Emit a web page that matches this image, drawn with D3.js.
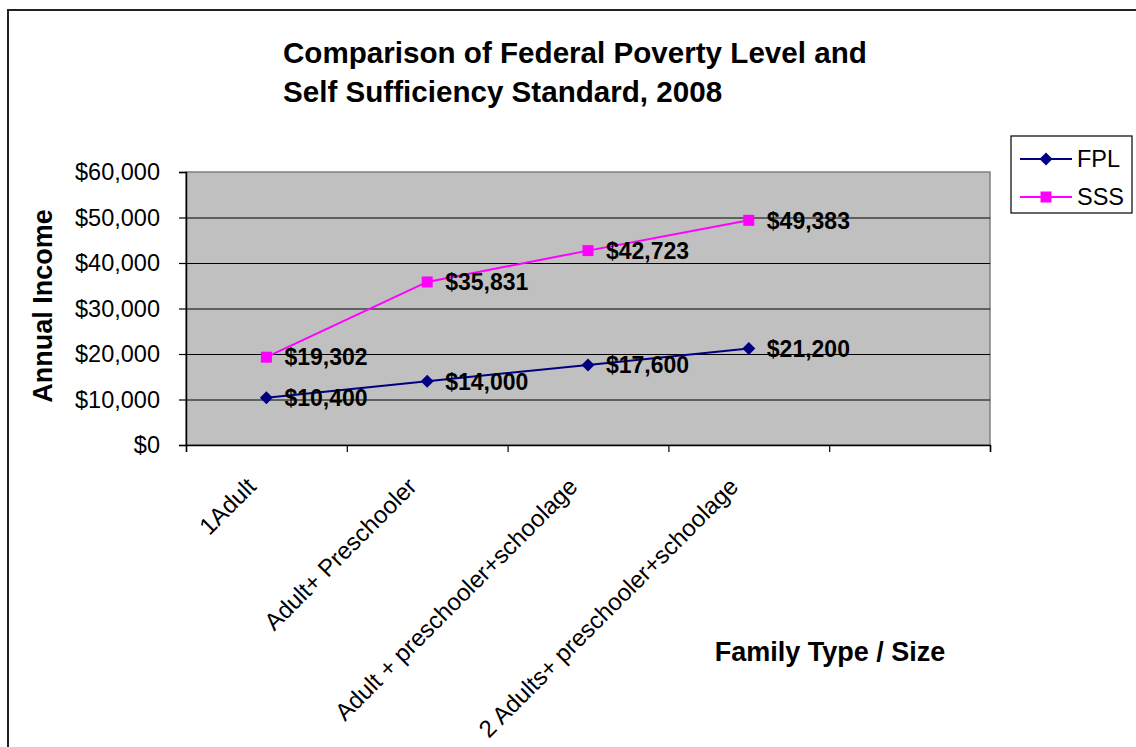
<!DOCTYPE html>
<html>
<head>
<meta charset="utf-8">
<script src="https://cdn.jsdelivr.net/npm/d3@7"></script>
<style>
  html, body { margin: 0; padding: 0; background: #fff; }
  svg { display: block; font-family: "Liberation Sans", Arial, sans-serif; }
</style>
</head>
<body>
<svg id="chart" width="1136" height="747"></svg>
<script>
// Family types along the x axis (the last slot is an empty category)
const categories = [
  "1Adult",
  "Adult+ Preschooler",
  "Adult + preschooler+schoolage",
  "2 Adults+ preschooler+schoolage",
  ""
];
// Federal Poverty Level, annual income
const fplValues = [10400, 14000, 17600, 21200];
// Self Sufficiency Standard, annual income
const sssValues = [19302, 35831, 42723, 49383];
const seriesNames = ["FPL", "SSS"];
const yTicks = [0, 10000, 20000, 30000, 40000, 50000, 60000];

const svg = d3.select("#chart");

// outer chart frame (runs off the right and bottom edges)
svg.append("rect")
  .attr("x", 8).attr("y", 10)
  .attr("width", 1300).attr("height", 900)
  .attr("fill", "#fff").attr("stroke", "#222").attr("stroke-width", 2);

const plot = { left: 186, right: 990, top: 172, bottom: 445 };

const x = d3.scaleBand().domain(categories).range([plot.left, plot.right]);
const xEdge = d3.scaleLinear().domain([0, categories.length]).range([plot.left, plot.right]);
const y = d3.scaleLinear().domain([0, 60000]).range([plot.bottom, plot.top]);
const cx = c => x(c) + x.bandwidth() / 2;
const money = d3.format("$,.0f");

// plot area
svg.append("rect")
  .attr("x", plot.left).attr("y", plot.top)
  .attr("width", plot.right - plot.left).attr("height", plot.bottom - plot.top)
  .attr("fill", "#c0c0c0").attr("stroke", "#808080").attr("stroke-width", 1.5);

// horizontal gridlines
const grid = svg.append("g")
  .attr("transform", `translate(${plot.left},0)`)
  .call(d3.axisLeft(y).tickValues(yTicks.filter(v => v > 0 && v < 60000))
    .tickSize(-(plot.right - plot.left)).tickFormat(""));
grid.select(".domain").remove();
grid.selectAll("line").attr("stroke", "#000").attr("stroke-width", 1);

// y axis
const yAxis = svg.append("g")
  .attr("transform", `translate(${plot.left},0)`)
  .call(d3.axisLeft(y).tickValues(yTicks).tickSize(7).tickPadding(19).tickFormat(money));
yAxis.select(".domain").attr("stroke", "#000").attr("stroke-width", 1.5);
yAxis.selectAll(".tick line").attr("stroke", "#000").attr("stroke-width", 1.2);
yAxis.selectAll(".tick text")
  .attr("fill", "#000")
  .style("font-size", "23.5px")
  .style("font-family", "'Liberation Sans', Arial, sans-serif");

// x axis: tick marks between categories
const xAxis = svg.append("g")
  .attr("transform", `translate(0,${plot.bottom})`)
  .call(d3.axisBottom(xEdge).tickValues(d3.range(categories.length + 1)).tickSize(7).tickFormat(""));
xAxis.select(".domain").attr("stroke", "#000").attr("stroke-width", 1.5);
xAxis.selectAll(".tick line").attr("stroke", "#000").attr("stroke-width", 1.2);

// rotated category labels
svg.append("g").selectAll("text")
  .data(categories)
  .join("text")
  .attr("transform", d => `translate(${cx(d) - 9},${plot.bottom + 43}) rotate(-45)`)
  .attr("text-anchor", "end")
  .style("font-size", "24px")
  .attr("fill", "#000")
  .text(d => d);

// series lines and markers
const series = [
  { name: seriesNames[0], values: fplValues, color: "#000080", marker: "diamond" },
  { name: seriesNames[1], values: sssValues, color: "#ff00ff", marker: "square" }
];
const line = d3.line()
  .x((v, i) => cx(categories[i]))
  .y(v => y(v));

function drawMarker(g, type, color) {
  if (type === "diamond") {
    g.append("path").attr("d", "M0,-6.5L6.5,0L0,6.5L-6.5,0Z").attr("fill", color);
  } else {
    g.append("rect").attr("x", -5.5).attr("y", -5.5).attr("width", 11).attr("height", 11).attr("fill", color);
  }
}

series.forEach(s => {
  svg.append("path")
    .datum(s.values)
    .attr("d", line)
    .attr("fill", "none")
    .attr("stroke", s.color)
    .attr("stroke-width", 2);
  s.values.forEach((v, i) => {
    const g = svg.append("g").attr("transform", `translate(${cx(categories[i])},${y(v)})`);
    drawMarker(g, s.marker, s.color);
  });
});

// data labels
series.forEach(s => {
  svg.append("g").selectAll("text")
    .data(s.values)
    .join("text")
    .attr("x", (v, i) => cx(categories[i]) + 18)
    .attr("y", v => y(v))
    .attr("dy", "0.36em")
    .style("font-size", "23px")
    .style("font-weight", "bold")
    .attr("fill", "#000")
    .text(v => money(v));
});

// chart title
const title = svg.append("text")
  .attr("x", 283).attr("y", 63)
  .style("font-size", "29.6px").style("font-weight", "bold").attr("fill", "#000");
title.append("tspan").attr("x", 283).text("Comparison of Federal Poverty Level and");
title.append("tspan").attr("x", 283).attr("dy", 39).text("Self Sufficiency Standard, 2008");

// axis titles
svg.append("text")
  .attr("transform", `translate(52,306) rotate(-90)`)
  .attr("text-anchor", "middle")
  .style("font-size", "27px").style("font-weight", "bold").attr("fill", "#000")
  .text("Annual Income");

svg.append("text")
  .attr("x", 830).attr("y", 661)
  .attr("text-anchor", "middle")
  .style("font-size", "27px").style("font-weight", "bold").attr("fill", "#000")
  .text("Family Type / Size");

// legend
const legend = svg.append("g");
legend.append("rect")
  .attr("x", 1011).attr("y", 136).attr("width", 121).attr("height", 77)
  .attr("fill", "#fff").attr("stroke", "#000").attr("stroke-width", 1.2);
series.forEach((s, i) => {
  const ly = 159 + i * 38;
  legend.append("line")
    .attr("x1", 1020).attr("x2", 1072).attr("y1", ly).attr("y2", ly)
    .attr("stroke", s.color).attr("stroke-width", 2);
  const g = legend.append("g").attr("transform", `translate(1046,${ly})`);
  drawMarker(g, s.marker, s.color);
  legend.append("text")
    .attr("x", 1077).attr("y", ly).attr("dy", "0.36em")
    .style("font-size", "23.5px").attr("fill", "#000")
    .text(s.name);
});
</script>
</body>
</html>
